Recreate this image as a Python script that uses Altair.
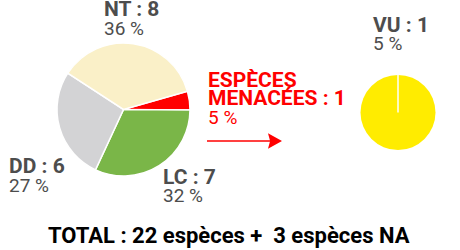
import math
import altair as alt
import pandas as pd

# Data
categories = ["Menacées", "LC", "DD", "NT"]
counts = [1, 7, 6, 8]
colors = ["#FF0000", "#7AB648", "#D3D3D5", "#FAF0C8"]
order = [0, 1, 2, 3]

vu_categories = ["VU"]
vu_counts = [1]
vu_colors = ["#FFEC00"]

FONT = "Roboto"
GRAY = "#4D4D4D"
RED = "#FF0000"

start = math.radians(74)

pie_df = pd.DataFrame({"cat": categories, "n": counts, "o": order})
vu_df = pd.DataFrame({"cat": vu_categories, "n": vu_counts})

pie = alt.Chart(pie_df).mark_arc(outerRadius=66.5, stroke="white", strokeWidth=1.5).encode(
    theta=alt.Theta("n:Q", stack=True, scale=alt.Scale(range=[start, start + 2 * math.pi])),
    color=alt.Color("cat:N", scale=alt.Scale(domain=categories, range=colors), legend=None),
    order=alt.Order("o:Q"),
    x=alt.value(123.5),
    y=alt.value(109.5),
)

vu = alt.Chart(vu_df).mark_arc(outerRadius=37.5).encode(
    theta=alt.Theta("n:Q", stack=True),
    color=alt.Color("cat:N", scale=alt.Scale(domain=vu_categories, range=vu_colors), legend=None),
    x=alt.value(398),
    y=alt.value(112.5),
)

vu_line = alt.Chart(vu_df).mark_rule(color="white", strokeWidth=1.5).encode(
    x=alt.value(398), y=alt.value(75), y2=alt.value(112.5)
)

arrow_line = alt.Chart(vu_df).mark_rule(color=RED, strokeWidth=1.5).encode(
    x=alt.value(207), x2=alt.value(272), y=alt.value(141)
)
arrow_head = alt.Chart(vu_df).mark_point(
    shape="M -1 -1.1 L 1 0 L -1 1.1 L -0.7 0 Z", filled=True, color=RED, opacity=1, size=196
).encode(x=alt.value(275), y=alt.value(141))


def txt(text, x, y, size, color, bold):
    return alt.Chart(vu_df).mark_text(
        text=text, x=x, y=y, align="left", baseline="alphabetic",
        font=FONT, fontSize=size, fontWeight="bold" if bold else "normal", color=color,
    )


B, R = 21, 19
labels = [
    txt("NT : 8", 104, 16, B, GRAY, True),
    txt("36 %", 104, 35, R, GRAY, False),
    txt("DD : 6", 9, 173, B, GRAY, True),
    txt("27 %", 9, 192, R, GRAY, False),
    txt("LC : 7", 163, 184, B, GRAY, True),
    txt("32 %", 163, 202, R, GRAY, False),
    txt("ESPÈCES", 208, 87, B, RED, True),
    txt("MENACÉES : 1", 208, 105, B, RED, True),
    txt("5 %", 208, 124, R, RED, False),
    txt("VU : 1", 373, 32, B, GRAY, True),
    txt("5 %", 373, 50, R, GRAY, False),
    txt("TOTAL : 22 espèces +\u00a0 3 espèces NA", 48, 243, 22, "black", True),
]

chart = alt.layer(pie, vu, vu_line, arrow_line, arrow_head, *labels).properties(
    width=460, height=250, padding=0, autosize=alt.AutoSizeParams(type="none")
).configure_view(stroke=None).resolve_scale(color="independent", theta="independent")

chart.save("out.html", embed_options={"renderer": "svg", "actions": False})
